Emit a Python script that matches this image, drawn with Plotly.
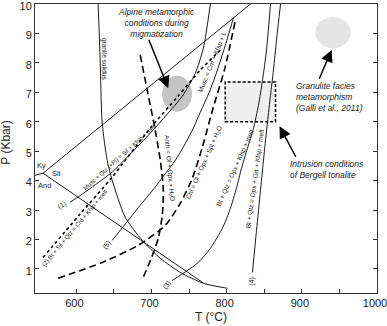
import plotly.graph_objects as go

# ---------------- data (T in °C, P in kbar) ----------------
ky_sil_T = [555.7, 831.7]
ky_sil_P = [4.25, 10.0]
and_sil_T = [555.7, 769.0]
and_sil_P = [4.25, 0.52]
ky_and_T = [545.0, 555.7]
ky_and_P = [4.18, 4.25]

solidus_T = [629, 631.7, 634.3, 641, 647.7, 665, 687.7, 711.7, 738.3, 769, 801]
solidus_P = [10, 8.10, 5.99, 4.69, 4.01, 2.76, 1.97, 1.36, 0.88, 0.51, 0.34]

r1_T = [591.7, 602.3, 631.7, 647.7, 671.7, 698.3, 721, 741, 758.3, 769, 774.3, 778.3]
r1_P = [3.27, 3.44, 3.98, 4.29, 4.90, 5.61, 6.26, 6.87, 7.65, 8.50, 9.29, 10.0]

r2_T = [555.7, 605, 647.7, 698.3, 734.3, 765, 794.3]
r2_P = [1.39, 2.86, 4.12, 5.78, 6.84, 7.76, 8.50]

r3_T = [727.7, 746.3, 762.3, 778.3, 794.3, 805, 813, 819.7, 827.7, 835.7, 842.3, 847.7, 853, 858.3]
r3_P = [0.61, 0.92, 1.22, 1.70, 2.38, 3.06, 3.74, 4.42, 5.10, 5.78, 6.56, 7.41, 8.44, 10.0]

r4_T = [834.3, 839.7, 845, 850.3, 854.3, 858.3, 862.3, 866.3, 871.7]
r4_P = [0.88, 2.31, 3.67, 5.03, 5.99, 6.90, 7.76, 8.78, 10.0]

r5_T = [647.7, 665, 685, 705, 715.7, 731.7, 742.3, 754.3, 765, 777, 787.7, 797, 805, 809]
r5_P = [1.97, 2.52, 3.16, 3.78, 4.15, 4.69, 5.14, 5.71, 6.33, 7.01, 7.76, 8.50, 9.18, 9.52]

anth_T = [685, 694.3, 703.7, 711.7, 715.7, 714.3, 709, 699.7, 689]
anth_P = [8.27, 7.07, 5.88, 4.69, 3.67, 2.82, 2.04, 1.36, 0.71]

chl_T = [575.7, 634.3, 682.3, 718.3, 738.3, 754.3, 767.7, 782.3, 797, 811.7]
chl_P = [0.68, 1.22, 1.80, 2.48, 3.23, 4.08, 5.14, 6.50, 7.76, 9.46]

box_T = [798, 865]
box_P = [6.0, 7.35]
alpine_T = [714, 754]
alpine_P = [6.34, 7.56]
granulite_T = [918, 965]
granulite_P = [8.50, 9.56]

x_ticks = [600, 700, 800, 900, 1000]
x_minor = [650, 750, 850, 950]
y_ticks = [1, 2, 3, 4, 5, 6, 7, 8, 9, 10]

FONT = "Liberation Sans, Arial, sans-serif"
fig = go.Figure()

def line(T, P, dash="solid", width=0.9, spline=True):
    fig.add_trace(go.Scatter(
        x=T, y=P, mode="lines",
        line=dict(color="black", width=width, dash=dash,
                  shape="spline" if spline else "linear", smoothing=0.7),
        hoverinfo="skip", showlegend=False))

# shapes: filled regions
fig.add_shape(type="rect", xref="x", yref="y", x0=box_T[0], x1=box_T[1],
              y0=box_P[0], y1=box_P[1], fillcolor="#efefef",
              line=dict(color="black", width=1.5, dash="3px,2px"), layer="below")
fig.add_shape(type="circle", xref="x", yref="y", x0=alpine_T[0], x1=alpine_T[1],
              y0=alpine_P[0], y1=alpine_P[1], fillcolor="#c4c4c4",
              line=dict(width=0), layer="below")
fig.add_shape(type="circle", xref="x", yref="y", x0=granulite_T[0], x1=granulite_T[1],
              y0=granulite_P[0], y1=granulite_P[1], fillcolor="#e4e4e4",
              line=dict(width=0), layer="below")

line(ky_sil_T, ky_sil_P, spline=False)
line(and_sil_T, and_sil_P, spline=False)
line(ky_and_T, ky_and_P, spline=False)
line(solidus_T, solidus_P)
line(r1_T, r1_P)
line(r2_T, r2_P, dash="dot", width=1.6)
line(r3_T, r3_P)
line(r4_T, r4_P)
line(r5_T, r5_P)
line(anth_T, anth_P, dash="7px,4px", width=1.6)
line(chl_T, chl_P, dash="7px,4px", width=1.6)

def label(x, y, text, size=6.5, angle=0, italic=False, align="center", xanchor="center"):
    if italic:
        text = "<i>" + text + "</i>"
    fig.add_annotation(x=x, y=y, xref="x", yref="y", text=text, showarrow=False,
                       textangle=angle, align=align, xanchor=xanchor,
                       font=dict(family=FONT, size=size, color="#1a1a1a"))

label(637, 8.13, "granite solidus", 6.5, 90)
label(553, 4.52, "Ky", 7.5)
label(573, 4.25, "Sil", 7.5)
label(557, 3.84, "And", 7.5)
label(582, 3.16, "(1)", 7, -35)
label(658, 4.80, "Musc + Qtz (+Pl) = Sil + Kfsp + melt", 6, -42)
label(598, 2.38, "(2) Bt + Sil + Qtz = Crd + Kfsp + melt", 6, -50)
label(641, 1.80, "(5)", 7, -55)
label(721, 0.44, "(3)", 7, -55)
label(834.3, 0.58, "(4)", 7, -90)
label(723.7, 4.42, "Anth = Ol + Opx + H<sub>2</sub>O", 6.5, 85)
label(770.3, 4.63, "Chl = Ol + Opx + Spl + H<sub>2</sub>O", 6.5, -66)
label(781, 8.03, "Musc = Crn + Kfsp + L", 6.5, -68)
label(811.7, 4.42, "Bt + Qtz = Opx + Kfsp + melt", 6.5, -66)
label(838.3, 4.08, "Bt + Qtz = Opx + Grt + Kfsp + melt", 6.5, -82)

label(706, 9.36, "Alpine metamorphic<br>conditions during<br>migmatization", 8.5, 0, True)
label(890, 6.84, "Granulite facies<br>metamorphism<br>(Galli et al., 2011)", 8.5, 0, True, "left", "left")
label(881, 4.38, "Intrusion conditions<br>of Bergell tonalite", 8.5, 0, True, "left", "left")

def arrow(x, y, ax, ay):
    fig.add_annotation(x=x, y=y, ax=ax, ay=ay, xref="x", yref="y", axref="x", ayref="y",
                       text="", showarrow=True, arrowhead=2, arrowsize=1.6,
                       arrowwidth=1.5, arrowcolor="black")

arrow(722.3, 7.14, 695.7, 8.84)
arrow(939.7, 8.44, 922.3, 7.41)
arrow(870.3, 5.85, 893, 4.76)

# axis titles as annotations (fixed placement)
fig.add_annotation(xref="paper", yref="paper", x=0.515, y=0, yshift=-24,
                   text="T (°C)", showarrow=False, yanchor="middle",
                   font=dict(family=FONT, size=12, color="#222"))
fig.add_annotation(xref="paper", yref="paper", x=0, xshift=-29, y=0.52,
                   text="P (Kbar)", showarrow=False, textangle=-90,
                   xanchor="center", yanchor="middle",
                   font=dict(family=FONT, size=12, color="#222"))

fig.update_layout(
    width=387, height=326,
    margin=dict(l=35, r=10, t=4, b=33, autoexpand=False),
    plot_bgcolor="white", paper_bgcolor="white",
    font=dict(family=FONT, size=11, color="#222"),
    showlegend=False,
    xaxis=dict(range=[545, 1000], tickvals=x_ticks, ticks="inside", ticklen=4,
               showline=True, linecolor="#333", linewidth=1, mirror=True,
               showgrid=False, zeroline=False, automargin=False,
               ticklabeloverflow="allow", ticklabelshift=-2,
               minor=dict(tickvals=x_minor, ticks="inside", ticklen=4, tickcolor="#333"),
               tickcolor="#333", tickfont=dict(size=11)),
    yaxis=dict(range=[0.18, 10.001], tickvals=y_ticks, ticks="inside", ticklen=4,
               showline=True, linecolor="#333", linewidth=1, mirror="ticks",
               showgrid=False, zeroline=False, automargin=False,
               ticklabeloverflow="allow", ticklabelshift=2,
               tickcolor="#333", tickfont=dict(size=11)),
)

fig.write_html("out.html", config={"displayModeBar": False, "staticPlot": True},
               post_script="document.body.style.margin='0';")
